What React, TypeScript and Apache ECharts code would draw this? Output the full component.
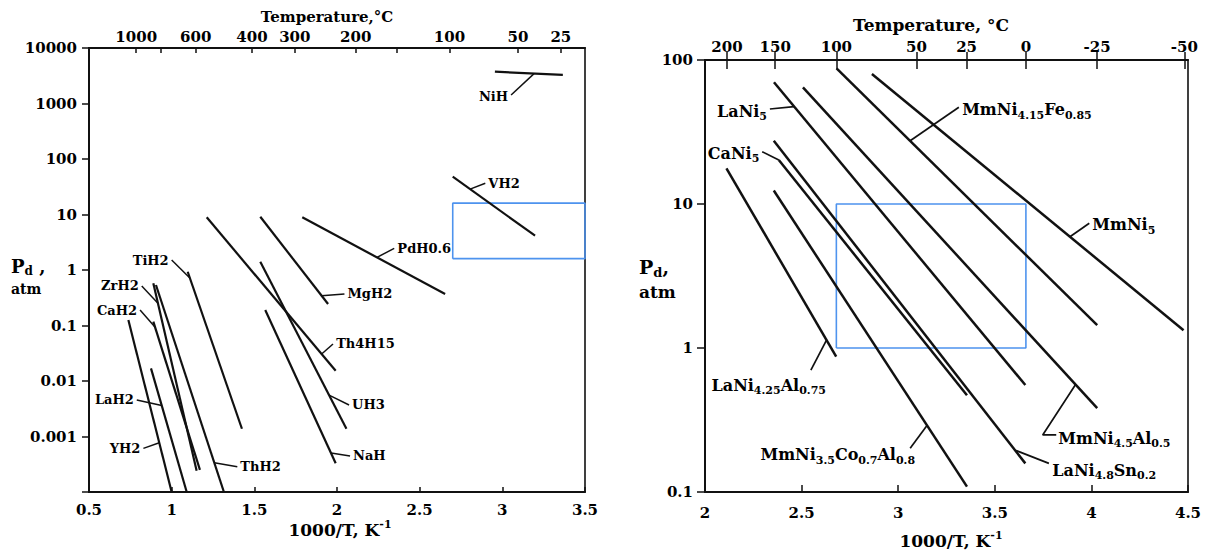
import React, { useEffect, useRef } from 'react';
import * as echarts from 'echarts';

const FONT = '"DejaVu Serif", "Liberation Serif", serif';
const INK = '#111111';
const TXT = '#000000';
const BLUE = '#4e93ee';

// ---------- left panel: metal hydrides (x = 1000/T, K^-1 ; y = Pd, atm) ----------
const leftNames = ['NiH', 'VH2', 'PdH0.6', 'MgH2', 'Th4H15', 'UH3', 'NaH', 'TiH2', 'ZrH2', 'CaH2', 'ThH2', 'YH2', 'LaH2'];
const leftX1 = [2.955, 2.70, 1.79, 1.536, 1.212, 1.536, 1.566, 1.097, 0.889, 0.889, 0.905, 0.738, 0.875];
const leftP1 = [3740, 48, 8.9, 9.1, 8.9, 1.41, 0.19, 0.93, 0.575, 0.1175, 0.537, 0.126, 0.0169];
const leftX2 = [3.366, 3.198, 2.654, 1.946, 1.992, 2.057, 1.992, 1.425, 1.151, 1.171, 1.316, 1.0, 1.091];
const leftP2 = [3270, 4.15, 0.37, 0.244, 0.0153, 0.00138, 0.00033, 0.00138, 0.000242, 0.000251, 0.0001, 0.0001, 0.0001];

const leftLabelX = [3.05, 2.90, 2.35, 2.048, 1.98, 2.076, 2.082, 0.997, 0.816, 0.806, 1.40, 0.826, 0.786];
const leftLabelP = [1330, 36.5, 2.46, 0.37, 0.0465, 0.0037, 0.000446, 1.51, 0.515, 0.19, 0.000286, 0.000612, 0.00455];
const leftLabelSide = ['left', 'right', 'right', 'right', 'right', 'right', 'right', 'left', 'left', 'left', 'right', 'left', 'left'];

const leftLeaders = [
  [[3.053, 1422], [3.192, 3460]],
  [[2.897, 36.5], [2.805, 28.6]],
  [[2.346, 2.46], [2.242, 1.69]],
  [[2.045, 0.37], [1.907, 0.344]],
  [[1.976, 0.0465], [1.907, 0.0307]],
  [[2.073, 0.0037], [1.952, 0.00558]],
  [[2.079, 0.000446], [1.964, 0.000502]],
  [[1.0, 1.51], [1.11, 0.72]],
  [[0.819, 0.515], [0.917, 0.251]],
  [[0.809, 0.19], [0.899, 0.094]],
  [[1.397, 0.000286], [1.258, 0.000336]],
  [[0.829, 0.000612], [0.925, 0.00077]],
  [[0.789, 0.00455], [0.94, 0.00361]],
];

const leftBoxX = [2.7, 3.5];
const leftBoxP = [1.6, 16];

const leftTempLabels = [1000, 600, 400, 300, 200, 100, 50, 25];
const leftTempTicks = [1000, 800, 600, 400, 300, 200, 150, 100, 50, 25];

// ---------- right panel: AB5 intermetallics ----------
const rightNames = ['LaNi_{4.25}Al_{0.75}', 'MmNi_{3.5}Co_{0.7}Al_{0.8}', 'CaNi_{5}', 'LaNi_{4.8}Sn_{0.2}', 'LaNi_{5}', 'MmNi_{4.5}Al_{0.5}', 'MmNi_{4.15}Fe_{0.85}', 'MmNi_{5}'];
const rightX1 = [2.111, 2.356, 2.382, 2.356, 2.357, 2.507, 2.681, 2.864];
const rightP1 = [17.7, 12.4, 20.2, 27.5, 70, 64.6, 87.5, 80];
const rightX2 = [2.679, 3.356, 3.356, 3.658, 3.658, 4.030, 4.030, 4.477];
const rightP2 = [0.87, 0.109, 0.47, 0.158, 0.553, 0.382, 1.44, 1.33];

const rightLabelX = [2.021, 2.274, 2.294, 3.785, 2.334, 3.816, 3.318, 3.992];
const rightLabelP = [0.553, 0.181, 22.6, 0.142, 44, 0.237, 45, 7.15];
const rightLabelSide = ['right', 'right', 'left', 'right', 'left', 'right', 'right', 'right'];

const rightLeaders = [
  [[2.548, 0.703], [2.629, 1.135]],
  [[3.062, 0.201], [3.149, 0.29]],
  [[2.296, 23.1], [2.382, 20.2]],
  [[3.78, 0.158], [3.606, 0.195]],
  [[2.336, 45.7], [2.461, 47.5]],
  [[3.818, 0.249], [3.748, 0.249], [3.919, 0.56]],
  [[3.314, 47], [3.062, 27.5]],
  [[3.989, 7.35], [3.889, 5.93]],
];

const rightBoxTempC = [100, 0];
const rightBoxP = [1, 10];

const rightTempLabels = [200, 150, 100, 50, 25, 0, -25, -50];

// ---------- helpers ----------
const inv = (c: number) => 1000 / (c + 273.15);
const toC = (v: number) => String(Math.round(1000 / v - 273.15));

function toRich(s: string): string {
  return s
    .split(/(_\{[^}]*\})/)
    .filter(Boolean)
    .map((t) => (t.startsWith('_{') ? `{s|${t.slice(2, -1)}}` : `{m|${t}}`))
    .join('');
}

function logLabel(v: number, hideBelow: number): string {
  const e = Math.round(Math.log10(v));
  if (e < hideBelow) return '';
  if (e >= 0) return String(Math.pow(10, e));
  return Math.pow(10, e).toFixed(-e);
}

const boxData = (xs: number[], ps: number[]) => [
  [xs[0], ps[0]], [xs[1], ps[0]], [xs[1], ps[1]], [xs[0], ps[1]], [xs[0], ps[0]],
];

const tickFont = { fontFamily: FONT, fontWeight: 'bold' as const, fontSize: 15, color: TXT };

export default function App() {
  const ref = useRef<HTMLDivElement>(null);

  useEffect(() => {
    document.body.style.margin = '0';
    if (!ref.current) return;
    const chart = echarts.init(ref.current, undefined, { renderer: 'svg' });

    const series: any[] = [];

    // blue boxes
    series.push({
      type: 'line', xAxisIndex: 0, yAxisIndex: 0, data: boxData(leftBoxX, leftBoxP),
      symbol: 'none', silent: true, lineStyle: { color: BLUE, width: 1.6 }, z: 2,
    });
    series.push({
      type: 'line', xAxisIndex: 2, yAxisIndex: 1, data: boxData(rightBoxTempC.map(inv), rightBoxP),
      symbol: 'none', silent: true, lineStyle: { color: BLUE, width: 1.6 }, z: 2,
    });

    leftNames.forEach((n, i) => {
      series.push({
        type: 'line', name: n, xAxisIndex: 0, yAxisIndex: 0,
        data: [[leftX1[i], leftP1[i]], [leftX2[i], leftP2[i]]],
        symbol: 'none', silent: true, lineStyle: { color: INK, width: 2.2 }, z: 3,
      });
    });
    rightNames.forEach((n, i) => {
      series.push({
        type: 'line', name: n, xAxisIndex: 2, yAxisIndex: 1,
        data: [[rightX1[i], rightP1[i]], [rightX2[i], rightP2[i]]],
        symbol: 'none', silent: true, lineStyle: { color: INK, width: 2.5 }, z: 3,
      });
    });

    leftLeaders.forEach((pts) => {
      series.push({
        type: 'line', xAxisIndex: 0, yAxisIndex: 0, data: pts,
        symbol: 'none', silent: true, lineStyle: { color: INK, width: 1.5 }, z: 3,
      });
    });
    rightLeaders.forEach((pts) => {
      series.push({
        type: 'line', xAxisIndex: 2, yAxisIndex: 1, data: pts,
        symbol: 'none', silent: true, lineStyle: { color: INK, width: 1.7 }, z: 3,
      });
    });

    const leftLabelStyle = {
      show: true, distance: 2, fontFamily: FONT, fontWeight: 'bold', fontSize: 13,
      color: TXT, opacity: 1, textBorderWidth: 0,
    };
    series.push({
      type: 'scatter', xAxisIndex: 0, yAxisIndex: 0, symbolSize: 1,
      itemStyle: { color: 'rgba(255,255,255,0)', opacity: 1 }, silent: true, z: 4,
      data: leftNames.map((n, i) => ({
        value: [leftLabelX[i], leftLabelP[i]],
        label: { ...leftLabelStyle, position: leftLabelSide[i], formatter: n },
      })),
    });

    const mStyle = { fontFamily: FONT, fontWeight: 'bold', fontSize: 16, color: TXT, lineHeight: 22, verticalAlign: 'middle' };
    const sStyle = { fontFamily: FONT, fontWeight: 'bold', fontSize: 11, color: TXT, lineHeight: 12, verticalAlign: 'bottom' };
    series.push({
      type: 'scatter', xAxisIndex: 2, yAxisIndex: 1, symbolSize: 1,
      itemStyle: { color: 'rgba(255,255,255,0)', opacity: 1 }, silent: true, z: 4,
      data: rightNames.map((n, i) => ({
        value: [rightLabelX[i], rightLabelP[i]],
        label: {
          show: true, distance: 2, color: TXT, opacity: 1, textBorderWidth: 0,
          position: rightLabelSide[i], formatter: toRich(n), rich: { m: mStyle, s: sStyle },
        },
      })),
    });

    const axisLine = { show: true, lineStyle: { color: INK, width: 2 } };

    const option: any = {
      animation: false,
      grid: [
        { left: 89, top: 48, width: 496, height: 444, show: true, borderColor: INK, borderWidth: 1.6, backgroundColor: 'transparent' },
        { left: 705, top: 60, width: 483, height: 432, show: true, borderColor: INK, borderWidth: 1.6, backgroundColor: 'transparent' },
      ],
      xAxis: [
        {
          gridIndex: 0, type: 'value', position: 'bottom', min: 0.5, max: 3.5, interval: 0.5,
          axisLine, splitLine: { show: false },
          axisTick: { inside: true, length: 5, lineStyle: { color: INK, width: 1.5 } },
          axisLabel: { ...tickFont, margin: 10, showMinLabel: true, showMaxLabel: true, formatter: (v: number) => String(v) },
        },
        {
          gridIndex: 0, type: 'value', position: 'top', min: 0.5, max: 3.5,
          axisLine, splitLine: { show: false },
          axisTick: { inside: true, length: 5, customValues: leftTempTicks.map(inv), lineStyle: { color: INK, width: 1.5 } },
          axisLabel: { ...tickFont, margin: 4, customValues: leftTempLabels.map(inv), formatter: toC },
        },
        {
          gridIndex: 1, type: 'value', position: 'bottom', min: 2, max: 4.5, interval: 0.5,
          axisLine, splitLine: { show: false },
          axisTick: { inside: true, length: 7, lineStyle: { color: INK, width: 1.5 } },
          axisLabel: { ...tickFont, margin: 13, showMinLabel: true, showMaxLabel: true, formatter: (v: number) => String(v) },
        },
        {
          gridIndex: 1, type: 'value', position: 'top', min: 2, max: 4.5,
          axisLine, splitLine: { show: false },
          axisTick: { inside: false, length: 8, customValues: rightTempLabels.map(inv), lineStyle: { color: INK, width: 1.5 } },
          axisLabel: { ...tickFont, margin: 6, customValues: rightTempLabels.map(inv), formatter: toC },
        },
        {
          gridIndex: 1, type: 'value', position: 'top', min: 2, max: 4.5,
          axisLine: { show: false }, splitLine: { show: false },
          axisTick: { inside: true, length: 9, customValues: rightTempLabels.map(inv), lineStyle: { color: INK, width: 1.5 } },
          axisLabel: { show: false },
        },
      ],
      yAxis: [
        {
          gridIndex: 0, type: 'log', logBase: 10, min: 0.0001, max: 10000, splitNumber: 8,
          axisLine, splitLine: { show: false }, minorTick: { show: false },
          axisTick: { inside: false, length: 7, lineStyle: { color: INK, width: 1.5 } },
          axisLabel: { ...tickFont, margin: 12, formatter: (v: number) => logLabel(v, -3) },
        },
        {
          gridIndex: 1, type: 'log', logBase: 10, min: 0.1, max: 100, splitNumber: 3,
          axisLine, splitLine: { show: false },
          axisTick: { inside: false, length: 8, lineStyle: { color: INK, width: 1.5 } },
          axisLabel: { ...tickFont, margin: 12, formatter: (v: number) => logLabel(v, -1) },
        },
      ],
      graphic: [
        {
          type: 'text', x: 327, y: 17,
          style: { text: 'Temperature,°C', font: `bold 15px ${FONT}`, fill: TXT, align: 'center', verticalAlign: 'middle' },
        },
        {
          type: 'text', x: 340, y: 530,
          style: {
            text: '{m|1000/T, K}{u|-1}', fill: TXT, align: 'center', verticalAlign: 'middle',
            rich: {
              m: { fontFamily: FONT, fontWeight: 'bold', fontSize: 17, fill: TXT, lineHeight: 22, verticalAlign: 'middle' },
              u: { fontFamily: FONT, fontWeight: 'bold', fontSize: 11, fill: TXT, lineHeight: 12, verticalAlign: 'top' },
            },
          },
        },
        {
          type: 'text', x: 931, y: 25,
          style: { text: 'Temperature, °C', font: `bold 17px ${FONT}`, fill: TXT, align: 'center', verticalAlign: 'middle' },
        },
        {
          type: 'text', x: 951, y: 541,
          style: {
            text: '{m|1000/T, K}{u|-1}', fill: TXT, align: 'center', verticalAlign: 'middle',
            rich: {
              m: { fontFamily: FONT, fontWeight: 'bold', fontSize: 17, fill: TXT, lineHeight: 22, verticalAlign: 'middle' },
              u: { fontFamily: FONT, fontWeight: 'bold', fontSize: 11, fill: TXT, lineHeight: 12, verticalAlign: 'top' },
            },
          },
        },
        {
          type: 'text', x: 11, y: 266,
          style: {
            text: '{p|P}{s|d}{p| ,}', fill: TXT, align: 'left', verticalAlign: 'middle',
            rich: {
              p: { fontFamily: FONT, fontWeight: 'bold', fontSize: 18, fill: TXT, lineHeight: 22, verticalAlign: 'middle' },
              s: { fontFamily: FONT, fontWeight: 'bold', fontSize: 12, fill: TXT, lineHeight: 12, verticalAlign: 'bottom' },
            },
          },
        },
        {
          type: 'text', x: 11, y: 289,
          style: { text: 'atm', font: `bold 14px ${FONT}`, fill: TXT, align: 'left', verticalAlign: 'middle' },
        },
        {
          type: 'text', x: 639, y: 267,
          style: {
            text: '{p|P}{s|d}{p|,}', fill: TXT, align: 'left', verticalAlign: 'middle',
            rich: {
              p: { fontFamily: FONT, fontWeight: 'bold', fontSize: 19, fill: TXT, lineHeight: 24, verticalAlign: 'middle' },
              s: { fontFamily: FONT, fontWeight: 'bold', fontSize: 13, fill: TXT, lineHeight: 13, verticalAlign: 'bottom' },
            },
          },
        },
        {
          type: 'text', x: 639, y: 292,
          style: { text: 'atm', font: `bold 17px ${FONT}`, fill: TXT, align: 'left', verticalAlign: 'middle' },
        },
      ],
      series,
    };

    chart.setOption(option);
    return () => chart.dispose();
  }, []);

  return <div ref={ref} style={{ width: 1211, height: 553 }} />;
}
